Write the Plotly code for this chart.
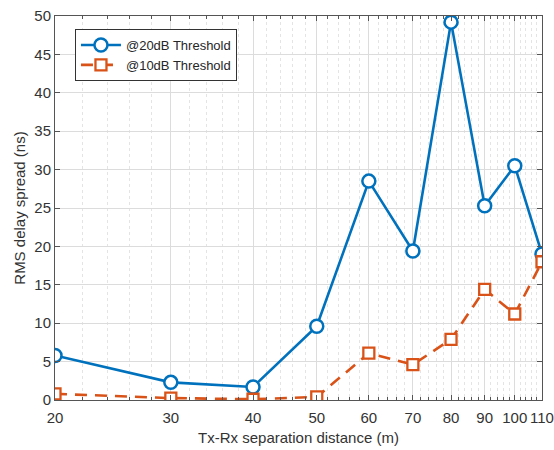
import math
import plotly.graph_objects as go

distance = [20, 30, 40, 50, 60, 70, 80, 90, 100, 110]
thr20 = [5.8, 2.3, 1.7, 9.6, 28.5, 19.4, 49.2, 25.3, 30.5, 19.0]
thr10 = [0.8, 0.25, 0.1, 0.4, 6.1, 4.6, 7.9, 14.4, 11.2, 18.0]
x_ticks = [20, 30, 40, 50, 60, 70, 80, 90, 100, 110]
x_minor = list(range(20, 111, 2))

blue = "#0072BD"
orange = "#D95319"
font = "Liberation Sans, Arial, sans-serif"

fig = go.Figure()
fig.add_trace(go.Scatter(
    x=distance, y=thr20, mode="lines+markers", name="@20dB Threshold",
    line=dict(color=blue, width=2.6),
    marker=dict(symbol="circle", size=13, color="white", line=dict(color=blue, width=2.5)),
))
fig.add_trace(go.Scatter(
    x=distance, y=thr10, mode="lines+markers", name="@10dB Threshold",
    line=dict(color=orange, width=2.6, dash="12px,8px"),
    marker=dict(symbol="square", size=11, color="white", line=dict(color=orange, width=2.3)),
))

fig.update_layout(
    width=554, height=450,
    margin=dict(l=55, r=12, t=16, b=50),
    paper_bgcolor="white", plot_bgcolor="white",
    font=dict(family=font, size=15, color="#333333"),
    showlegend=True,
    legend=dict(
        x=0.041, y=0.966, xanchor="left", yanchor="top",
        bgcolor="white", bordercolor="#333333", borderwidth=1,
        font=dict(size=13, color="#262626"),
        tracegroupgap=0, itemwidth=40,
    ),
    xaxis=dict(
        type="log", range=[math.log10(20), math.log10(110)],
        tickmode="array", tickvals=x_ticks, ticktext=[str(v) for v in x_ticks],
        showline=True, linecolor="#555555", linewidth=1, mirror="ticks",
        ticks="inside", ticklen=5, tickcolor="#555555",
        ticklabelstandoff=4, automargin=False, ticklabeloverflow="allow",
        showgrid=True, gridcolor="#dcdcdc", gridwidth=1,
        zeroline=False,
        minor=dict(tickmode="array", tickvals=x_minor, ticks="inside", ticklen=3,
                   tickcolor="#555555", showgrid=True, gridcolor="#e4e4e4",
                   griddash="dot", gridwidth=1),
        title=dict(text="Tx-Rx separation distance (m)", font=dict(size=15), standoff=7),
    ),
    yaxis=dict(
        range=[0, 50], tickmode="linear", tick0=0, dtick=5,
        showline=True, linecolor="#555555", linewidth=1, mirror="ticks",
        ticks="inside", ticklen=5, tickcolor="#555555",
        automargin=False,
        showgrid=True, gridcolor="#dcdcdc", gridwidth=1,
        zeroline=False,
        title=dict(text="RMS delay spread (ns)", font=dict(size=15), standoff=5),
    ),
)

fig.write_html("out.html")
